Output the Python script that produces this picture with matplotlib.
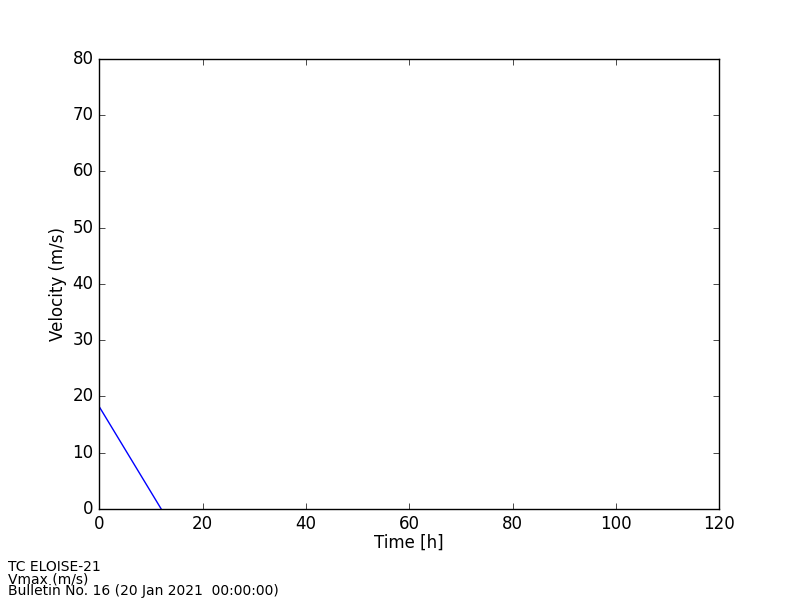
import matplotlib
matplotlib.use("Agg")
import matplotlib.pyplot as plt

plt.style.use('classic')

time_h = [0, 12]
vmax = [18.2, 0]

fig = plt.figure(figsize=(8, 6), dpi=100)
ax = fig.add_axes([0.124, 0.1517, 0.775, 0.75])
ax.plot(time_h, vmax, color='blue', linewidth=1)
ax.set_xlim(0, 120)
ax.set_ylim(0, 80)
ax.set_xlabel('Time [h]', labelpad=1)
ax.set_ylabel('Velocity (m/s)', labelpad=4)

fig.text(0.01, 0.003, 'TC ELOISE-21\nVmax (m/s)\nBulletin No. 16 (20 Jan 2021  00:00:00)',
         fontsize=10, ha='left', va='bottom', linespacing=0.83)

fig.savefig('out.png', dpi=100, facecolor='white')
